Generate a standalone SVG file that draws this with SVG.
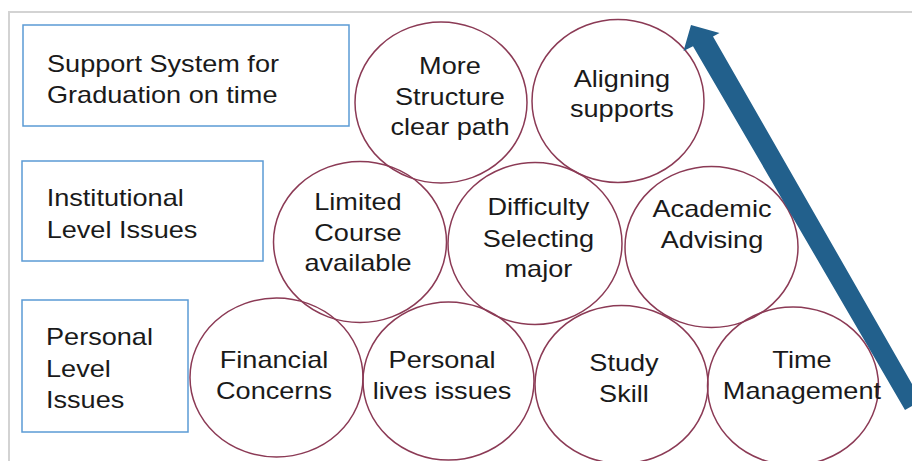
<svg xmlns="http://www.w3.org/2000/svg" width="912" height="461" viewBox="0 0 912 461">
<style>
.frame{fill:none;stroke:#d3d3d3;stroke-width:2}
.box{fill:#ffffff;stroke:#5b9bd5;stroke-width:1.5}
.c{fill:none;stroke:#8b3a55;stroke-width:1.5}
.t{font-family:"Liberation Sans",Arial,sans-serif;font-size:24px;fill:#1a1a1a}
.m{text-anchor:middle}
.arrow{fill:#22608c}
</style>
<rect x="0" y="0" width="912" height="461" fill="#ffffff"/>
<path class="frame" d="M9,461 V12 H912"/>
<g id="box-support">
<rect class="box" x="23" y="25" width="326" height="101"/>
<text class="t" transform="scale(1.13 1)"><tspan x="41.6" y="72">Support System for</tspan><tspan x="41.6" y="103">Graduation on time</tspan></text>
</g>
<g id="box-institutional">
<rect class="box" x="22" y="161" width="241" height="100"/>
<text class="t" transform="scale(1.13 1)"><tspan x="41.3" y="206">Institutional</tspan><tspan x="41.3" y="238">Level Issues</tspan></text>
</g>
<g id="box-personal">
<rect class="box" x="22" y="300" width="166" height="132"/>
<text class="t" transform="scale(1.13 1)"><tspan x="40.7" y="345">Personal</tspan><tspan x="40.7" y="377">Level</tspan><tspan x="40.7" y="408">Issues</tspan></text>
</g>
<g id="c-more">
<ellipse class="c" cx="441" cy="102.5" rx="86" ry="80.5"/>
<text class="t m" transform="scale(1.13 1)"><tspan x="398.2" y="74">More</tspan><tspan x="398.2" y="105">Structure</tspan><tspan x="398.2" y="135">clear path</tspan></text>
</g>
<g id="c-aligning">
<ellipse class="c" cx="618" cy="101" rx="86" ry="81.5"/>
<text class="t m" transform="scale(1.13 1)"><tspan x="550.4" y="87">Aligning</tspan><tspan x="550.4" y="117">supports</tspan></text>
</g>
<g id="c-limited">
<ellipse class="c" cx="360" cy="242" rx="86.5" ry="80.5"/>
<text class="t m" transform="scale(1.13 1)"><tspan x="316.8" y="210">Limited</tspan><tspan x="316.8" y="241">Course</tspan><tspan x="316.8" y="271">available</tspan></text>
</g>
<g id="c-difficulty">
<ellipse class="c" cx="535" cy="243.5" rx="87" ry="81"/>
<text class="t m" transform="scale(1.13 1)"><tspan x="476.5" y="215">Difficulty</tspan><tspan x="476.5" y="247">Selecting</tspan><tspan x="476.5" y="277">major</tspan></text>
</g>
<g id="c-academic">
<ellipse class="c" cx="711.5" cy="247" rx="86.5" ry="80.5"/>
<text class="t m" transform="scale(1.13 1)"><tspan x="630.1" y="217">Academic</tspan><tspan x="630.1" y="248">Advising</tspan></text>
</g>
<g id="c-financial">
<ellipse class="c" cx="276.5" cy="377.5" rx="86.5" ry="79.5"/>
<text class="t m" transform="scale(1.13 1)"><tspan x="242.5" y="368">Financial</tspan><tspan x="242.5" y="399">Concerns</tspan></text>
</g>
<g id="c-personal">
<ellipse class="c" cx="448.5" cy="381" rx="85.5" ry="79"/>
<text class="t m" transform="scale(1.13 1)"><tspan x="391.2" y="368">Personal</tspan><tspan x="391.2" y="399">lives issues</tspan></text>
</g>
<g id="c-study">
<ellipse class="c" cx="621.5" cy="384.5" rx="86.5" ry="79"/>
<text class="t m" transform="scale(1.13 1)"><tspan x="552.2" y="371">Study</tspan><tspan x="552.2" y="402">Skill</tspan></text>
</g>
<g id="c-time">
<ellipse class="c" cx="793" cy="386" rx="85.5" ry="79"/>
<text class="t m" transform="scale(1.13 1)"><tspan x="709.7" y="368">Time</tspan><tspan x="709.7" y="399">Management</tspan></text>
</g>
<g id="connectors">
<polygon class="arrow" points="691,25 719.5,33 713,36.5 921.5,400.5 905,410 693,46.3 683.5,51"/>
</g>
</svg>
